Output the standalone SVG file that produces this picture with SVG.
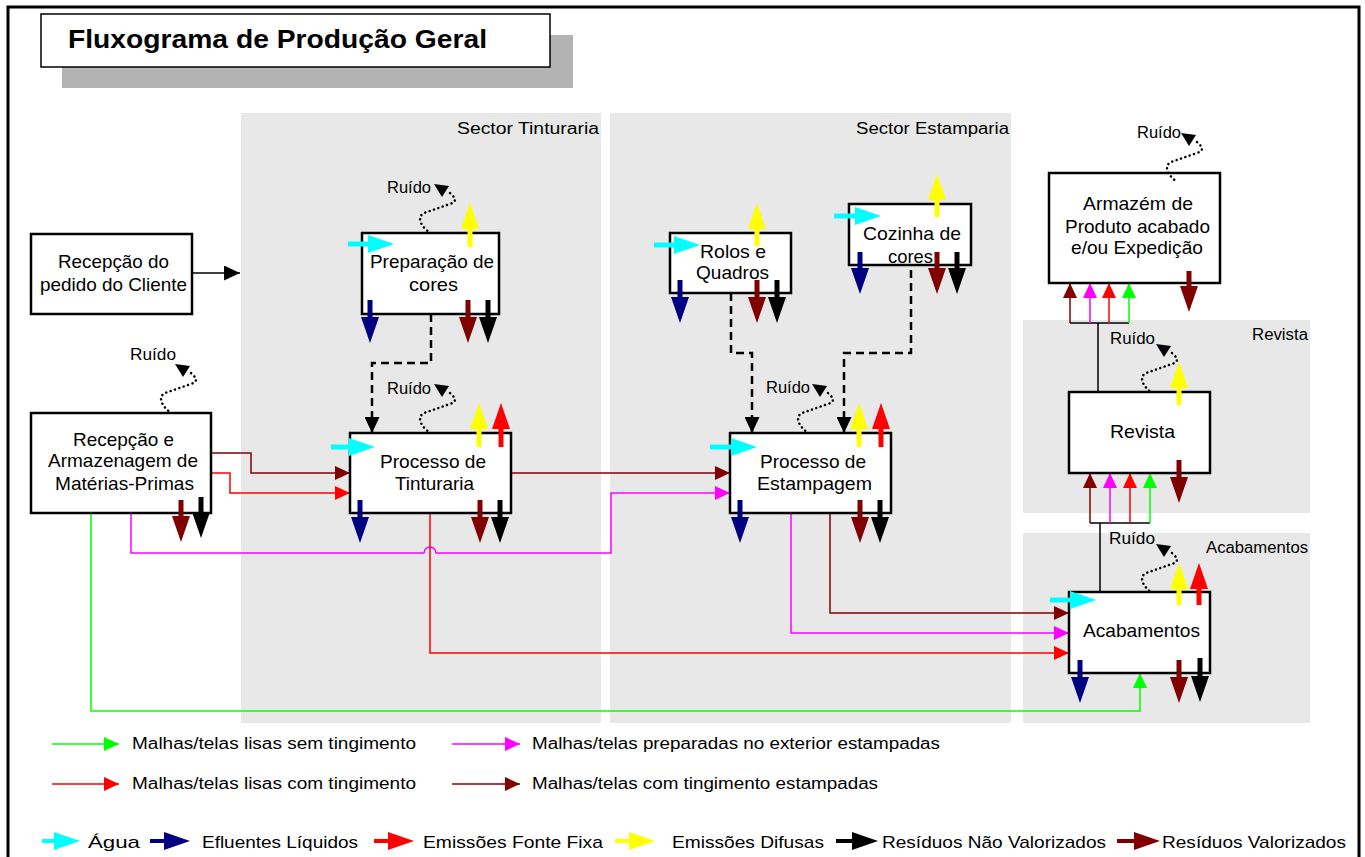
<svg xmlns="http://www.w3.org/2000/svg" xmlns:xlink="http://www.w3.org/1999/xlink" width="1365" height="857" viewBox="0 0 1365 857">
<defs>
<style>
  text { font-family: "Liberation Sans", Arial, sans-serif; fill: #000; }
  .t { font-size: 19px; }
  .s { font-size: 15px; }
  .r { font-size: 16px; }
  .l { font-size: 16px; }
  .b { font-size: 17px; }
  .box { fill: #fff; stroke: #000; stroke-width: 2.5; }
  .sector { fill: #e8e8e8; }
  .dash { fill: none; stroke: #000; stroke-width: 2.5; stroke-dasharray: 8 5; }
  .flow { fill: none; stroke-width: 1.5; }
  .em { stroke-width: 5; fill: none; }
  .lg { stroke-width: 4; fill: none; }
  .dot { fill: none; stroke: #000; stroke-width: 2.5; stroke-dasharray: 0.1 4.5; stroke-linecap: round; }
  .tie { fill: none; stroke: #000; stroke-width: 1.5; }
</style>
<!-- large heads for inputs / emissions / wastes -->
<marker id="bCyan" markerUnits="userSpaceOnUse" markerWidth="26" markerHeight="18" refX="14" refY="9" orient="auto"><path d="M0,0 L26,9 L0,18 z" fill="#00ffff"/></marker>
<marker id="bNavy" markerUnits="userSpaceOnUse" markerWidth="26" markerHeight="18" refX="14" refY="9" orient="auto"><path d="M0,0 L26,9 L0,18 z" fill="#000080"/></marker>
<marker id="bRed" markerUnits="userSpaceOnUse" markerWidth="26" markerHeight="18" refX="14" refY="9" orient="auto"><path d="M0,0 L26,9 L0,18 z" fill="#ff0000"/></marker>
<marker id="bYellow" markerUnits="userSpaceOnUse" markerWidth="26" markerHeight="18" refX="14" refY="9" orient="auto"><path d="M0,0 L26,9 L0,18 z" fill="#ffff00"/></marker>
<marker id="bBlack" markerUnits="userSpaceOnUse" markerWidth="26" markerHeight="18" refX="14" refY="9" orient="auto"><path d="M0,0 L26,9 L0,18 z" fill="#000"/></marker>
<marker id="bDark" markerUnits="userSpaceOnUse" markerWidth="26" markerHeight="18" refX="14" refY="9" orient="auto"><path d="M0,0 L26,9 L0,18 z" fill="#800000"/></marker>
<!-- small heads for material flows -->
<marker id="sDark" markerUnits="userSpaceOnUse" markerWidth="15" markerHeight="14" refX="15" refY="7" orient="auto"><path d="M0,0 L15,7 L0,14 z" fill="#800000"/></marker>
<marker id="sRed" markerUnits="userSpaceOnUse" markerWidth="15" markerHeight="14" refX="15" refY="7" orient="auto"><path d="M0,0 L15,7 L0,14 z" fill="#ff0000"/></marker>
<marker id="sMag" markerUnits="userSpaceOnUse" markerWidth="15" markerHeight="14" refX="15" refY="7" orient="auto"><path d="M0,0 L15,7 L0,14 z" fill="#ff00ff"/></marker>
<marker id="sGreen" markerUnits="userSpaceOnUse" markerWidth="15" markerHeight="14" refX="15" refY="7" orient="auto"><path d="M0,0 L15,7 L0,14 z" fill="#00ff00"/></marker>
<marker id="sBlack" markerUnits="userSpaceOnUse" markerWidth="16" markerHeight="15" refX="16" refY="7.5" orient="auto"><path d="M0,0 L16,7.5 L0,15 z" fill="#000"/></marker>
<!-- noise indicator, origin on the box edge -->
<g id="noise">
  <path class="dot" d="M20,-40 C27,-34 26,-31 20,-29 L-6,-20 C-12,-17 -12,-9 0,0"/>
  <polygon points="4,-49 19,-47 12,-36" fill="#000"/>
</g>
</defs>

<rect width="1365" height="857" fill="#fff"/>
<rect x="8" y="7" width="1351" height="862" fill="none" stroke="#000" stroke-width="3"/>

<!-- sector backgrounds -->
<g id="sectors">
  <rect class="sector" x="241" y="113" width="360" height="610"/>
  <rect class="sector" x="610" y="113" width="401" height="610"/>
  <rect class="sector" x="1023" y="320" width="287" height="193"/>
  <rect class="sector" x="1023" y="533" width="287" height="190"/>
  <text class="r" x="457" y="134" textLength="142" lengthAdjust="spacingAndGlyphs">Sector Tinturaria</text>
  <text class="r" x="856" y="134" textLength="153" lengthAdjust="spacingAndGlyphs">Sector Estamparia</text>
  <text class="r" x="1252" y="340" textLength="56" lengthAdjust="spacingAndGlyphs">Revista</text>
  <text class="r" x="1206" y="553" textLength="102" lengthAdjust="spacingAndGlyphs">Acabamentos</text>
</g>

<!-- title -->
<g id="title">
  <rect x="62" y="35" width="511" height="53" fill="#b3b3b3"/>
  <rect x="41" y="14" width="509" height="53" fill="#fff" stroke="#000" stroke-width="1.5"/>
  <text x="68" y="48" font-size="26" font-weight="bold" textLength="419" lengthAdjust="spacingAndGlyphs">Fluxograma de Produção Geral</text>
</g>

<!-- connectors -->
<g id="connectors">
  <line x1="192" y1="273" x2="240" y2="273" stroke="#000" stroke-width="1.5" marker-end="url(#sBlack)"/>
  <!-- colour kitchens to processes -->
  <path class="dash" d="M431,314 V363 H372 V433" marker-end="url(#sBlack)"/>
  <path class="dash" d="M731,293 V353 H752 V433" marker-end="url(#sBlack)"/>
  <path class="dash" d="M911,270 V353 H844 V433" marker-end="url(#sBlack)"/>
  <!-- raw materials to dyeing -->
  <path class="flow" stroke="#800000" d="M191,453 H251 V473 H350" marker-end="url(#sDark)"/>
  <path class="flow" stroke="#ff0000" d="M191,473 H230 V493 H350" marker-end="url(#sRed)"/>
  <!-- dyeing to printing -->
  <path class="flow" stroke="#800000" d="M511,473 H730" marker-end="url(#sDark)"/>
  <!-- externally prepared fabric to printing -->
  <path class="flow" stroke="#ff00ff" d="M131,513 V553 H424 A6,6 0 0 1 436,553 H611 V493 H730" marker-end="url(#sMag)"/>
  <!-- flows to finishing -->
  <path class="flow" stroke="#800000" d="M830,513 V613 H1069" marker-end="url(#sDark)"/>
  <path class="flow" stroke="#ff00ff" d="M791,513 V633 H1069" marker-end="url(#sMag)"/>
  <path class="flow" stroke="#ff0000" d="M430,513 V653 H1069" marker-end="url(#sRed)"/>
  <path class="flow" stroke="#00ff00" d="M91,513 V711 H1140 V673" marker-end="url(#sGreen)"/>
  <!-- finishing to inspection -->
  <line class="tie" x1="1100" y1="523" x2="1100" y2="592"/>
  <line class="tie" x1="1090" y1="523" x2="1150" y2="523"/>
  <line class="flow" stroke="#800000" x1="1090" y1="523" x2="1090" y2="473" marker-end="url(#sDark)"/>
  <line class="flow" stroke="#ff00ff" x1="1110" y1="523" x2="1110" y2="473" marker-end="url(#sMag)"/>
  <line class="flow" stroke="#ff0000" x1="1130" y1="523" x2="1130" y2="473" marker-end="url(#sRed)"/>
  <line class="flow" stroke="#00ff00" x1="1150" y1="523" x2="1150" y2="473" marker-end="url(#sGreen)"/>
  <!-- inspection to warehouse -->
  <line class="tie" x1="1098" y1="323" x2="1098" y2="392"/>
  <line class="tie" x1="1070" y1="323" x2="1129" y2="323"/>
  <line class="flow" stroke="#800000" x1="1070" y1="323" x2="1070" y2="283" marker-end="url(#sDark)"/>
  <line class="flow" stroke="#ff00ff" x1="1090" y1="323" x2="1090" y2="283" marker-end="url(#sMag)"/>
  <line class="flow" stroke="#ff0000" x1="1109" y1="323" x2="1109" y2="283" marker-end="url(#sRed)"/>
  <line class="flow" stroke="#00ff00" x1="1129" y1="323" x2="1129" y2="283" marker-end="url(#sGreen)"/>
</g>

<g id="node-pedido">
  <rect class="box" x="31" y="234" width="161" height="80"/>
  <text class="t" x="113.5" y="268" text-anchor="middle" textLength="111" lengthAdjust="spacingAndGlyphs">Recepção do</text>
  <text class="t" x="113.5" y="291" text-anchor="middle" textLength="147" lengthAdjust="spacingAndGlyphs">pedido do Cliente</text>
</g>

<g id="node-materias">
  <rect class="box" x="31" y="413" width="180" height="100"/>
  <text class="t" x="123.5" y="446" text-anchor="middle" textLength="101" lengthAdjust="spacingAndGlyphs">Recepção e</text>
  <text class="t" x="123" y="467" text-anchor="middle" textLength="150" lengthAdjust="spacingAndGlyphs">Armazenagem de</text>
  <text class="t" x="124.5" y="490" text-anchor="middle" textLength="139" lengthAdjust="spacingAndGlyphs">Matérias-Primas</text>
  <use xlink:href="#noise" x="171" y="413"/>
  <text class="r" x="130" y="360" textLength="46" lengthAdjust="spacingAndGlyphs">Ruído</text>
  <line class="em" stroke="#800000" x1="181" y1="500" x2="181" y2="530" marker-end="url(#bDark)"/>
  <line class="em" stroke="#000" x1="201" y1="497" x2="201" y2="526" marker-end="url(#bBlack)"/>
</g>

<g id="node-preparacao">
  <rect class="box" x="362" y="233" width="137" height="81"/>
  <text class="t" x="432" y="268" text-anchor="middle" textLength="124" lengthAdjust="spacingAndGlyphs">Preparação de</text>
  <text class="t" x="433.5" y="291" text-anchor="middle" textLength="49" lengthAdjust="spacingAndGlyphs">cores</text>
  <use xlink:href="#noise" x="430" y="233"/>
  <text class="r" x="387" y="193" textLength="44" lengthAdjust="spacingAndGlyphs">Ruído</text>
  <line class="em" stroke="#00ffff" x1="348" y1="244" x2="382" y2="244" marker-end="url(#bCyan)"/>
  <line class="em" stroke="#ffff00" x1="470" y1="247" x2="470" y2="215" marker-end="url(#bYellow)"/>
  <line class="em" stroke="#000080" x1="370" y1="300" x2="370" y2="331" marker-end="url(#bNavy)"/>
  <line class="em" stroke="#800000" x1="468" y1="300" x2="468" y2="331" marker-end="url(#bDark)"/>
  <line class="em" stroke="#000" x1="488" y1="300" x2="488" y2="331" marker-end="url(#bBlack)"/>
</g>

<g id="node-tinturaria">
  <rect class="box" x="350" y="433" width="161" height="80"/>
  <text class="t" x="433" y="468" text-anchor="middle" textLength="106" lengthAdjust="spacingAndGlyphs">Processo de</text>
  <text class="t" x="434.5" y="490" text-anchor="middle" textLength="79" lengthAdjust="spacingAndGlyphs">Tinturaria</text>
  <use xlink:href="#noise" x="430" y="433"/>
  <text class="r" x="387" y="394" textLength="44" lengthAdjust="spacingAndGlyphs">Ruído</text>
  <line class="em" stroke="#00ffff" x1="331" y1="447" x2="363" y2="447" marker-end="url(#bCyan)"/>
  <line class="em" stroke="#ffff00" x1="479" y1="447" x2="479" y2="415" marker-end="url(#bYellow)"/>
  <line class="em" stroke="#ff0000" x1="501" y1="447" x2="501" y2="415" marker-end="url(#bRed)"/>
  <line class="em" stroke="#000080" x1="360" y1="500" x2="360" y2="531" marker-end="url(#bNavy)"/>
  <line class="em" stroke="#800000" x1="480" y1="500" x2="480" y2="531" marker-end="url(#bDark)"/>
  <line class="em" stroke="#000" x1="500" y1="500" x2="500" y2="531" marker-end="url(#bBlack)"/>
</g>

<g id="node-rolos">
  <rect class="box" x="670" y="233" width="121" height="60"/>
  <text class="t" x="733" y="258" text-anchor="middle" textLength="66" lengthAdjust="spacingAndGlyphs">Rolos e</text>
  <text class="t" x="732.5" y="279" text-anchor="middle" textLength="73" lengthAdjust="spacingAndGlyphs">Quadros</text>
  <line class="em" stroke="#00ffff" x1="654" y1="245" x2="688" y2="245" marker-end="url(#bCyan)"/>
  <line class="em" stroke="#ffff00" x1="757" y1="246" x2="757" y2="215" marker-end="url(#bYellow)"/>
  <line class="em" stroke="#000080" x1="680" y1="280" x2="680" y2="311" marker-end="url(#bNavy)"/>
  <line class="em" stroke="#800000" x1="757" y1="280" x2="757" y2="311" marker-end="url(#bDark)"/>
  <line class="em" stroke="#000" x1="777" y1="280" x2="777" y2="311" marker-end="url(#bBlack)"/>
</g>

<g id="node-cozinha">
  <rect class="box" x="849" y="204" width="122" height="61"/>
  <text class="t" x="912" y="240" text-anchor="middle" textLength="98" lengthAdjust="spacingAndGlyphs">Cozinha de</text>
  <text class="t" x="910.5" y="263" text-anchor="middle" textLength="45" lengthAdjust="spacingAndGlyphs">cores</text>
  <line class="em" stroke="#00ffff" x1="834" y1="216" x2="869" y2="216" marker-end="url(#bCyan)"/>
  <line class="em" stroke="#ffff00" x1="937" y1="217" x2="937" y2="186" marker-end="url(#bYellow)"/>
  <line class="em" stroke="#000080" x1="860" y1="252" x2="860" y2="282" marker-end="url(#bNavy)"/>
  <line class="em" stroke="#800000" x1="937" y1="252" x2="937" y2="282" marker-end="url(#bDark)"/>
  <line class="em" stroke="#000" x1="957" y1="252" x2="957" y2="282" marker-end="url(#bBlack)"/>
</g>

<g id="node-estampagem">
  <rect class="box" x="730" y="433" width="161" height="80"/>
  <text class="t" x="813" y="468" text-anchor="middle" textLength="106" lengthAdjust="spacingAndGlyphs">Processo de</text>
  <text class="t" x="814.5" y="490" text-anchor="middle" textLength="115" lengthAdjust="spacingAndGlyphs">Estampagem</text>
  <use xlink:href="#noise" x="808" y="433"/>
  <text class="r" x="766" y="393" textLength="44" lengthAdjust="spacingAndGlyphs">Ruído</text>
  <line class="em" stroke="#00ffff" x1="710" y1="447" x2="745" y2="447" marker-end="url(#bCyan)"/>
  <line class="em" stroke="#ffff00" x1="859" y1="447" x2="859" y2="415" marker-end="url(#bYellow)"/>
  <line class="em" stroke="#ff0000" x1="881" y1="447" x2="881" y2="415" marker-end="url(#bRed)"/>
  <line class="em" stroke="#000080" x1="740" y1="500" x2="740" y2="531" marker-end="url(#bNavy)"/>
  <line class="em" stroke="#800000" x1="860" y1="500" x2="860" y2="531" marker-end="url(#bDark)"/>
  <line class="em" stroke="#000" x1="880" y1="500" x2="880" y2="531" marker-end="url(#bBlack)"/>
</g>

<g id="node-armazem">
  <rect class="box" x="1049" y="173" width="171" height="110"/>
  <text class="t" x="1138" y="210" text-anchor="middle" textLength="110" lengthAdjust="spacingAndGlyphs">Armazém de</text>
  <text class="t" x="1137.5" y="233" text-anchor="middle" textLength="145" lengthAdjust="spacingAndGlyphs">Produto acabado</text>
  <text class="t" x="1137" y="254" text-anchor="middle" textLength="132" lengthAdjust="spacingAndGlyphs">e/ou Expedição</text>
  <use xlink:href="#noise" x="1177" y="182"/>
  <text class="r" x="1137" y="138" textLength="44" lengthAdjust="spacingAndGlyphs">Ruído</text>
  <line class="em" stroke="#800000" x1="1189" y1="271" x2="1189" y2="300" marker-end="url(#bDark)"/>
</g>

<g id="node-revista">
  <rect class="box" x="1069" y="392" width="141" height="81"/>
  <text class="t" x="1142.5" y="438" text-anchor="middle" textLength="65" lengthAdjust="spacingAndGlyphs">Revista</text>
  <use xlink:href="#noise" x="1152" y="393"/>
  <text class="r" x="1110" y="344" textLength="45" lengthAdjust="spacingAndGlyphs">Ruído</text>
  <line class="em" stroke="#ffff00" x1="1179" y1="405" x2="1179" y2="374" marker-end="url(#bYellow)"/>
  <line class="em" stroke="#800000" x1="1179" y1="460" x2="1179" y2="491" marker-end="url(#bDark)"/>
</g>

<g id="node-acabamentos">
  <rect class="box" x="1069" y="592" width="141" height="81"/>
  <text class="t" x="1141.5" y="637" text-anchor="middle" textLength="117" lengthAdjust="spacingAndGlyphs">Acabamentos</text>
  <use xlink:href="#noise" x="1152" y="593"/>
  <text class="r" x="1109" y="544" textLength="46" lengthAdjust="spacingAndGlyphs">Ruído</text>
  <line class="em" stroke="#00ffff" x1="1050" y1="600" x2="1084" y2="600" marker-end="url(#bCyan)"/>
  <line class="em" stroke="#ffff00" x1="1179" y1="605" x2="1179" y2="575" marker-end="url(#bYellow)"/>
  <line class="em" stroke="#ff0000" x1="1199" y1="605" x2="1199" y2="575" marker-end="url(#bRed)"/>
  <line class="em" stroke="#000080" x1="1080" y1="660" x2="1080" y2="691" marker-end="url(#bNavy)"/>
  <line class="em" stroke="#800000" x1="1179" y1="660" x2="1179" y2="691" marker-end="url(#bDark)"/>
  <line class="em" stroke="#000" x1="1200" y1="658" x2="1200" y2="690" marker-end="url(#bBlack)"/>
</g>

<!-- legend -->
<g id="legend">
  <line class="flow" stroke="#00ff00" x1="52" y1="744" x2="119" y2="744" marker-end="url(#sGreen)"/>
  <text class="l" x="132" y="749" textLength="284" lengthAdjust="spacingAndGlyphs">Malhas/telas lisas sem tingimento</text>
  <line class="flow" stroke="#ff00ff" x1="452" y1="744" x2="520" y2="744" marker-end="url(#sMag)"/>
  <text class="l" x="532" y="749" textLength="408" lengthAdjust="spacingAndGlyphs">Malhas/telas preparadas no exterior estampadas</text>
  <line class="flow" stroke="#ff0000" x1="52" y1="784" x2="119" y2="784" marker-end="url(#sRed)"/>
  <text class="l" x="132" y="789" textLength="284" lengthAdjust="spacingAndGlyphs">Malhas/telas lisas com tingimento</text>
  <line class="flow" stroke="#800000" x1="452" y1="784" x2="520" y2="784" marker-end="url(#sDark)"/>
  <text class="l" x="532" y="789" textLength="346" lengthAdjust="spacingAndGlyphs">Malhas/telas com tingimento estampadas</text>

  <line class="lg" stroke="#00ffff" x1="42" y1="841" x2="68" y2="841" marker-end="url(#bCyan)"/>
  <text class="b" x="88" y="848" textLength="52" lengthAdjust="spacingAndGlyphs">Água</text>
  <line class="lg" stroke="#000080" x1="150" y1="841" x2="178" y2="841" marker-end="url(#bNavy)"/>
  <text class="b" x="202" y="848" textLength="156" lengthAdjust="spacingAndGlyphs">Efluentes Líquidos</text>
  <line class="lg" stroke="#ff0000" x1="374" y1="841" x2="402" y2="841" marker-end="url(#bRed)"/>
  <text class="b" x="423" y="848" textLength="180" lengthAdjust="spacingAndGlyphs">Emissões Fonte Fixa</text>
  <line class="lg" stroke="#ffff00" x1="615" y1="841" x2="643" y2="841" marker-end="url(#bYellow)"/>
  <text class="b" x="672" y="848" textLength="152" lengthAdjust="spacingAndGlyphs">Emissões Difusas</text>
  <line class="lg" stroke="#000" x1="836" y1="841" x2="866" y2="841" marker-end="url(#bBlack)"/>
  <text class="b" x="882" y="848" textLength="224" lengthAdjust="spacingAndGlyphs">Resíduos Não Valorizados</text>
  <line class="lg" stroke="#800000" x1="1117" y1="841" x2="1148" y2="841" marker-end="url(#bDark)"/>
  <text class="b" x="1162" y="848" textLength="184" lengthAdjust="spacingAndGlyphs">Resíduos Valorizados</text>
</g>
</svg>
